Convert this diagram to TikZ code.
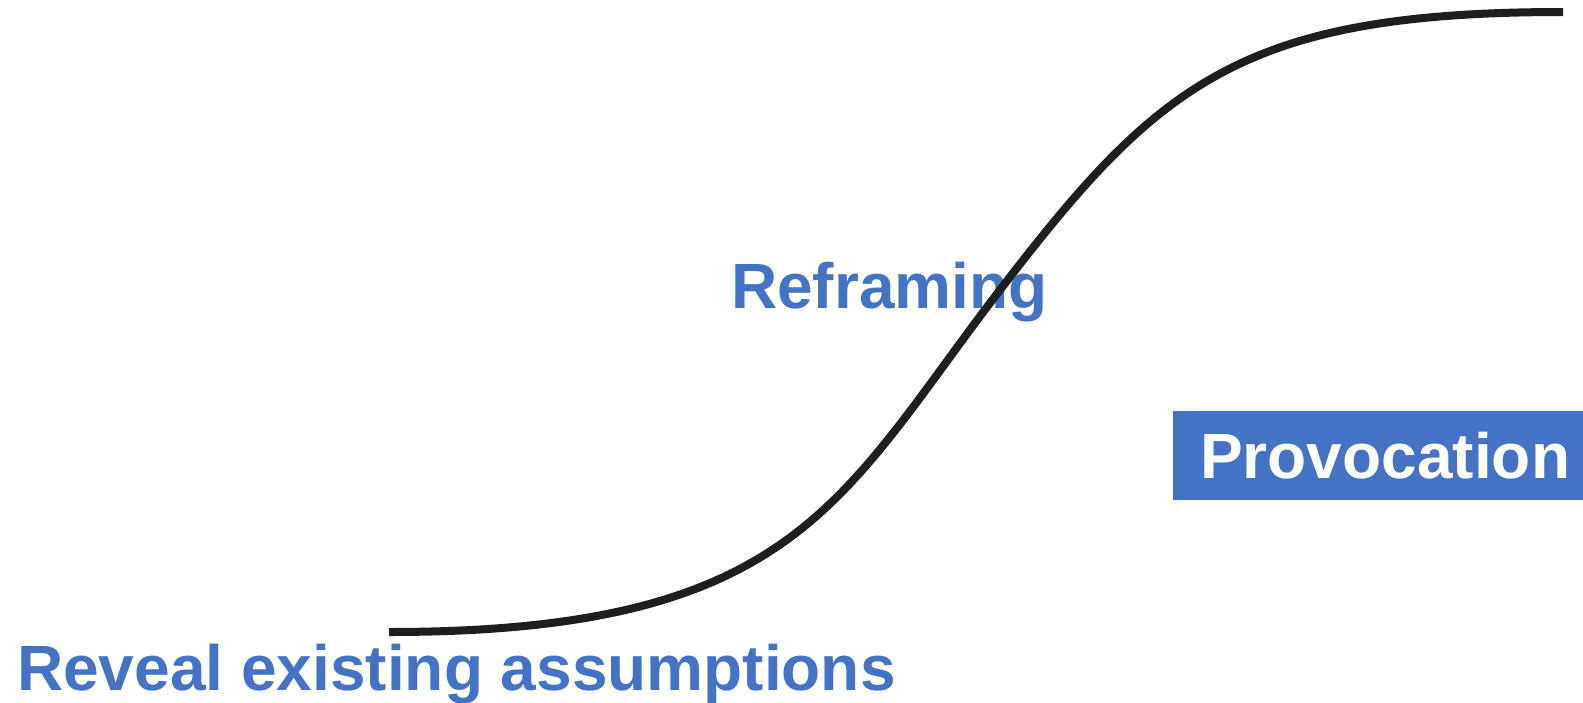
\documentclass[tikz,border=0pt]{standalone}
\usepackage{fontspec}
\setmainfont{Liberation Sans}
\definecolor{stepblue}{HTML}{4472C4}
\definecolor{curveblack}{HTML}{1E1E1E}

\begin{document}
\begin{tikzpicture}[x=1pt,y=-1pt,
    phase/.style={text=stepblue, font=\fontsize{64}{70}\selectfont\bfseries, inner sep=0pt},
    provbox/.style={fill=stepblue, text=white, font=\fontsize{64}{70}\selectfont\bfseries,
        minimum width=424pt, minimum height=89pt, text height=46pt, text depth=0pt, inner sep=0pt}]

% page frame
\useasboundingbox (0,0) rectangle (1583,702);

% labels
\node[phase, anchor=base west] (reveal) at (17,690) {Reveal existing assumptions};
\node[phase, anchor=base west] (reframe) at (731,308) {Reframing};
\node[provbox, anchor=north west] (provoke) at (1173,411) {Provocation};

% S-curve (black)
\coordinate (low) at (389,632);
\coordinate (turn) at (990,303);
\coordinate (high) at (1563,12);
\draw[curveblack, line width=8pt]
    (low) .. controls (789,632) and (838,504) ..
    (turn) ..
    controls (1154,88) and (1233,12) ..
    (high);

\end{tikzpicture}
\end{document}
